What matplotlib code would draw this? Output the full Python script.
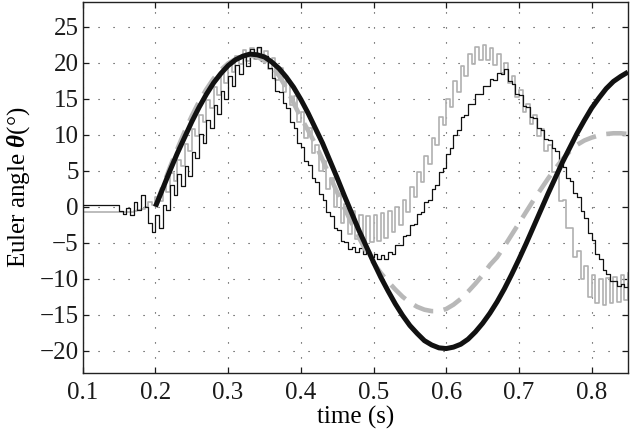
import numpy as np
import matplotlib
matplotlib.use("Agg")
import matplotlib.pyplot as plt

# ---------------- data ----------------
# smooth model curves (sampled every 0.01 s)
t_model = [0.20, 0.21, 0.22, 0.23, 0.24, 0.25, 0.26, 0.27, 0.28, 0.29,
           0.30, 0.31, 0.32, 0.33, 0.34, 0.35, 0.36, 0.37, 0.38, 0.39,
           0.40, 0.41, 0.42, 0.43, 0.44, 0.45, 0.46, 0.47, 0.48, 0.49,
           0.50, 0.51, 0.52, 0.53, 0.54, 0.55, 0.56, 0.57, 0.58, 0.59,
           0.60, 0.61, 0.62, 0.63, 0.64, 0.65, 0.66, 0.67, 0.68, 0.69,
           0.70, 0.71, 0.72, 0.73, 0.74, 0.75, 0.76, 0.77, 0.78, 0.79,
           0.80, 0.81, 0.82, 0.83, 0.84, 0.85]
model_black = [0.0, 2.5, 5.0, 7.4, 9.6, 11.8, 13.8, 15.6, 17.2, 18.5,
               19.6, 20.4, 20.9, 21.2, 21.1, 20.8, 20.1, 19.2, 18.0, 16.6,
               14.9, 13.0, 10.9, 8.8, 6.4, 4.0, 1.5, -0.9, -3.3, -5.5,
               -7.7, -9.8, -11.7, -13.5, -15.1, -16.5, -17.6, -18.6, -19.2, -19.6,
               -19.7, -19.5, -19.1, -18.4, -17.4, -16.2, -14.8, -13.2, -11.4, -9.4,
               -7.3, -5.1, -2.8, -0.5, 1.8, 4.0, 6.2, 8.2, 10.2, 12.0,
               13.7, 15.1, 16.4, 17.4, 18.1, 18.7]
model_gray = [0.0, 2.8, 5.5, 8.0, 10.4, 12.6, 14.6, 16.3, 17.8, 19.0,
              19.9, 20.5, 20.9, 21.0, 20.8, 20.3, 19.5, 18.2, 16.5, 14.4,
              12.4, 10.6, 8.7, 6.5, 4.2, 2.0, -0.2, -2.3, -4.3, -6.2,
              -7.8, -9.2, -10.4, -11.5, -12.5, -13.3, -13.9, -14.3, -14.5, -14.5,
              -14.2, -13.6, -12.8, -11.8, -10.7, -9.5, -8.1, -7.0, -5.5, -3.9,
              -2.3, -0.7, 0.9, 2.4, 3.9, 5.3, 6.6, 7.7, 8.6, 9.2,
              9.6, 9.9, 10.1, 10.2, 10.2, 10.1]

# measured (stepped) signals, sampled every 0.005 s from 0.100 to 0.850
t_meas = [round(0.100 + 0.005 * k, 3) for k in range(151)]
meas_black = [0.3, 0.3, 0.3, 0.3, 0.3, 0.3, 0.3, 0.2, 0.2, 0.2,
              -0.6, -1.0, -0.2, -1.1, 0.6, -0.4, 1.6, 0.0, -2.2, -3.5,
              -1.2, -3.0, 0.2, -0.5, 3.0, 1.6, 4.6, 2.9, 5.7, 4.2,
              7.6, 6.7, 10.1, 8.9, 12.1, 10.9, 14.1, 12.9, 16.1, 14.9,
              18.1, 16.7, 19.7, 18.4, 21.1, 19.6, 21.9, 20.6, 22.2, 20.2,
              21.0, 19.2, 17.9, 16.1, 15.9, 14.4, 13.7, 11.8, 10.9, 8.9,
              8.3, 6.4, 5.8, 4.0, 3.5, 1.7, 0.9, -0.8, -1.3, -2.9,
              -3.2, -4.7, -4.9, -5.9, -5.6, -6.3, -5.8, -6.6, -6.2, -7.0,
              -6.6, -7.3, -6.7, -7.2, -6.3, -6.5, -5.3, -5.3, -4.0, -3.9,
              -2.6, -2.4, -1.0, -0.8, 0.7, 1.0, 2.5, 3.0, 4.8, 5.4,
              7.3, 8.1, 10.0, 10.7, 12.5, 12.8, 14.2, 14.3, 15.6, 15.6,
              16.8, 16.7, 17.8, 17.6, 18.6, 18.4, 19.1, 17.5, 17.1, 15.7,
              15.5, 14.0, 13.8, 12.4, 12.3, 10.9, 10.7, 9.4, 9.3, 8.1,
              7.8, 6.0, 5.5, 4.0, 3.6, 1.9, 1.3, -0.6, -1.5, -3.7,
              -4.6, -6.5, -7.3, -8.8, -9.3, -10.3, -10.3, -11.0, -10.7, -11.1,
              -10.6]
meas_gray = [-0.8, -0.8, -0.8, -0.8, -0.8, -0.8, -0.8, -0.8, -0.8, -0.8,
             -0.8, -0.8, -0.7, -0.7, -0.6, -0.5, -0.3, 0.0, 0.6, 0.2,
             1.3, 0.8, 2.9, 2.1, 4.7, 3.6, 6.5, 5.6, 8.7, 7.8,
             10.8, 9.8, 12.8, 11.8, 14.8, 13.7, 16.6, 15.5, 18.4, 17.2,
             20.0, 18.7, 21.0, 19.8, 21.7, 20.3, 22.0, 20.5, 22.0, 20.2,
             21.6, 19.1, 20.7, 17.6, 19.2, 15.9, 17.4, 14.1, 15.4, 11.8,
             13.1, 9.6, 11.0, 7.4, 8.6, 5.0, 6.4, 2.4, 4.0, -0.1,
             1.8, -2.3, 0.4, -3.8, -0.6, -4.5, -1.1, -4.8, -1.3, -4.9,
             -1.2, -4.7, -0.9, -4.3, -0.6, -3.5, 0.0, -2.5, 1.0, -0.7,
             2.8, 1.4, 4.8, 3.5, 7.0, 5.9, 9.6, 8.6, 12.4, 11.3,
             15.0, 13.8, 17.4, 16.0, 19.5, 18.1, 21.2, 19.8, 22.2, 20.4,
             22.5, 20.4, 22.1, 19.7, 21.2, 18.6, 20.0, 17.2, 18.2, 15.2,
             16.2, 13.2, 14.3, 11.5, 12.8, 9.8, 10.8, 7.8, 8.6, 4.8,
             4.8, 0.8, 1.0, -3.0, -3.0, -7.0, -6.2, -10.1, -8.2, -12.5,
             -9.5, -13.4, -10.0, -13.6, -9.9, -13.4, -9.7, -13.2, -9.5, -13.0,
             -9.2]

x_ticks = [0.1, 0.2, 0.3, 0.4, 0.5, 0.6, 0.7, 0.8]
x_tick_labels = ["0.1", "0.2", "0.3", "0.4", "0.5", "0.6", "0.7", "0.8"]
y_ticks = [-20, -15, -10, -5, 0, 5, 10, 15, 20, 25]
y_tick_labels = ["\u221220", "\u221215", "\u221210", "\u22125", "0", "5", "10", "15", "20", "25"]

# ---------------- style ----------------
plt.rcParams['font.family'] = ['Liberation Serif', 'DejaVu Serif']
plt.rcParams['mathtext.fontset'] = 'custom'
plt.rcParams['mathtext.rm'] = 'Liberation Serif'
plt.rcParams['mathtext.it'] = 'Liberation Serif:italic'
plt.rcParams['mathtext.bf'] = 'Liberation Serif:bold:italic'

FS = 18

fig = plt.figure(figsize=(6.3, 4.33), dpi=100)
ax = fig.add_axes([0.1313, 0.1393, 0.8655, 0.8572])

ax.plot(t_meas, meas_gray, color='#b0b0b0', lw=1.2, drawstyle='steps-post', zorder=2)
ax.plot(t_meas, meas_black, color='#111111', lw=0.9, drawstyle='steps-post', zorder=3)
ax.plot(t_model, model_gray, color='#b8b8b8', lw=3.3, linestyle=(0, (4.4, 2.3)),
        dash_capstyle='butt', zorder=4)
ax.plot(t_model, model_black, color='#111111', lw=3.6, solid_capstyle='butt', zorder=5)

ax.set_xlim(0.1, 0.85)
ax.set_ylim(-23.05, 28.5)
ax.set_xticks(x_ticks)
ax.set_xticklabels(x_tick_labels)
ax.set_yticks(y_ticks)
ax.set_yticklabels(y_tick_labels)

ax.grid(True, color='#333333', lw=0.8, linestyle=(0, (1, 12.5)))
ax.tick_params(direction='in', top=True, right=True, length=4.5, width=0.9,
               labelsize=FS, colors='#1a1a1a')
ax.tick_params(axis='x', pad=7)
ax.tick_params(axis='y', pad=3)
for s in ax.spines.values():
    s.set_linewidth(1.0)
    s.set_color('#222222')

ax.set_xlabel('time (s)', fontsize=FS, labelpad=1)
ax.set_ylabel(r'Euler angle $\mathbf{\theta}$(°)', fontsize=FS, labelpad=5)

fig.savefig('out.png', dpi=100)
